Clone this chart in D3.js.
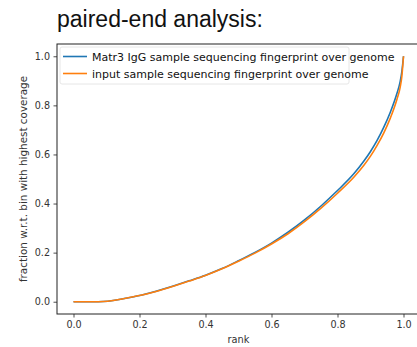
<!DOCTYPE html>
<html>
<head>
<meta charset="utf-8">
<script src="https://cdn.jsdelivr.net/npm/d3@7"></script>
<style>
  body { margin: 0; background: #fff; }
  text { font-family: "DejaVu Sans", sans-serif; }
</style>
</head>
<body>
<div class="chart"></div>
<script>
// values
const ranks = [0, 0.06, 0.09, 0.12, 0.15, 0.2, 0.25, 0.3, 0.35, 0.4, 0.45, 0.5, 0.55, 0.6, 0.65, 0.7, 0.75, 0.8, 0.85, 0.88, 0.9, 0.92, 0.94, 0.96, 0.98, 0.99, 0.995, 1.0];
const matr3 = [0, 0, 0.001, 0.005, 0.012, 0.025, 0.043, 0.063, 0.085, 0.108, 0.135, 0.167, 0.201, 0.239, 0.283, 0.333, 0.39, 0.453, 0.522, 0.573, 0.612, 0.657, 0.71, 0.772, 0.848, 0.898, 0.938, 1.0];
const input = [0, 0, 0.001, 0.005, 0.012, 0.025, 0.042, 0.062, 0.084, 0.107, 0.134, 0.165, 0.198, 0.235, 0.277, 0.326, 0.381, 0.442, 0.508, 0.556, 0.593, 0.637, 0.687, 0.748, 0.824, 0.874, 0.918, 1.0];
const seriesNames = ["Matr3 IgG sample sequencing fingerprint over genome", "input sample sequencing fingerprint over genome"];
const seriesColors = ["#1f77b4", "#ff7f0e"];
const xTicks = [0, 0.2, 0.4, 0.6, 0.8, 1.0];
const yTicks = [0, 0.2, 0.4, 0.6, 0.8, 1.0];

const width = 417, height = 347;
const mLeft = 57, mRight = 420, mTop = 44, mBottom = 314;

const svg = d3.select(".chart").append("svg")
    .attr("width", width).attr("height", height)
    .attr("viewBox", [0, 0, width, height]);

// title
svg.append("text")
    .attr("x", 57).attr("y", 27)
    .style("font-family", "'Liberation Sans', Arial, sans-serif")
    .style("font-size", "23px")
    .attr("fill", "#111")
    .text("paired-end analysis:");

const x = d3.scaleLinear().domain([-0.05, 1.05]).range([mLeft, mRight]);
const y = d3.scaleLinear().domain([-0.05, 1.05]).range([mBottom, mTop]);

const fmt = d3.format(".1f");

const xAxis = svg.append("g")
    .attr("transform", `translate(0,${mBottom})`)
    .call(d3.axisBottom(x).tickValues(xTicks).tickFormat(fmt).tickSize(3.5).tickPadding(3.5));
const yAxis = svg.append("g")
    .attr("transform", `translate(${mLeft},0)`)
    .call(d3.axisLeft(y).tickValues(yTicks).tickFormat(fmt).tickSize(3.5).tickPadding(3.5));

[xAxis, yAxis].forEach(a => {
  a.select(".domain").remove();
  a.selectAll(".tick line").attr("stroke", "#222").attr("stroke-width", 0.8);
  a.selectAll(".tick text").attr("fill", "#333")
      .style("font-family", "'DejaVu Sans', sans-serif").style("font-size", "9.6px");
});

// frame
svg.append("rect")
    .attr("x", mLeft).attr("y", mTop)
    .attr("width", mRight - mLeft).attr("height", mBottom - mTop)
    .attr("fill", "none").attr("stroke", "#222").attr("stroke-width", 1);

svg.append("text")
    .attr("x", (x(0) + x(1)) / 2).attr("y", 343)
    .attr("text-anchor", "middle")
    .style("font-size", "9.8px").attr("fill", "#333")
    .text("rank");

svg.append("text")
    .attr("transform", `translate(26.5,${(y(0) + y(1)) / 2}) rotate(-90)`)
    .attr("text-anchor", "middle")
    .style("font-size", "10.4px").attr("fill", "#333")
    .text("fraction w.r.t. bin with highest coverage");

const line = d3.line().x((d, i) => x(ranks[i])).y(d => y(d)).curve(d3.curveMonotoneX);

[matr3, input].forEach((vals, i) => {
  svg.append("path")
      .datum(vals)
      .attr("d", line)
      .attr("fill", "none")
      .attr("stroke", seriesColors[i])
      .attr("stroke-width", 1.6);
});

// legend
const lg = svg.append("g");
lg.append("rect")
    .attr("x", 60).attr("y", 47).attr("width", 289).attr("height", 37).attr("rx", 2)
    .attr("fill", "#fff").attr("fill-opacity", 0.8)
    .attr("stroke", "#e0e0e0").attr("stroke-width", 0.8);
seriesNames.forEach((name, i) => {
  const yy = 56.5 + i * 17;
  lg.append("line")
      .attr("x1", 63).attr("x2", 87).attr("y1", yy).attr("y2", yy)
      .attr("stroke", seriesColors[i]).attr("stroke-width", 1.6);
  lg.append("text")
      .attr("x", 92).attr("y", yy + 4)
      .style("font-size", "11px").attr("fill", "#111")
      .text(name);
});
</script>
</body>
</html>
